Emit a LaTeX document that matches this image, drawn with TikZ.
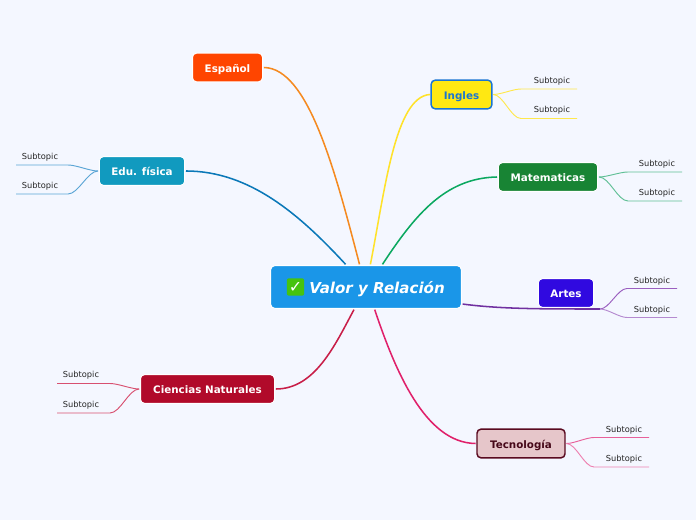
\documentclass[tikz,border=0pt]{standalone}
\usepackage{fontspec}
\setmainfont{DejaVu Sans}
\definecolor{bgpage}{HTML}{F4F7FF}
\tikzset{
  topic/.style={rounded corners=3pt, draw=white, line width=0.75pt, outer sep=1pt, inner sep=0pt,
    minimum height=21.5pt, text height=7.2pt, text depth=0pt, text=white, font=\fontsize{7.75}{10}\selectfont\bfseries},
  subtopic/.style={inner sep=0pt, text height=5.25pt, text depth=0pt, text=black!85, font=\fontsize{6.2}{8}\selectfont},
  branch/.style={line width=1.15pt},
  twig/.style={line width=0.7pt}
}
\begin{document}
\begin{tikzpicture}[x=0.75pt, y=-0.75pt]
  \fill[bgpage] (0,0) rectangle (696,520);
  \useasboundingbox (0,0) rectangle (696,520);
  % central topic
  \node[topic, fill={rgb,255:red,26;green,150;blue,232}, minimum width=143pt, minimum height=32pt, text height=9.4pt,
    font=\fontsize{11.3}{14}\selectfont\bfseries\itshape] (valor) at (366,287) {\hspace{16.5pt}Valor y Relación};
  \node[rounded corners=1.5pt, fill={rgb,255:red,70;green,195;blue,15}, minimum size=13pt, inner sep=0pt,
    text=white, font=\fontsize{12}{12}\selectfont\bfseries] (check) at (295.5,287) {✓};
  % main topics
  \node[topic, fill={rgb,255:red,255;green,69;blue,0}, minimum width=52.5pt] (espanol) at (227.5,67.5) {Español};
  \node[topic, fill={rgb,255:red,255;green,232;blue,18}, draw={rgb,255:red,26;green,117;blue,210}, line width=1.1pt,
    text={rgb,255:red,26;green,117;blue,210}, minimum width=45.5pt] (ingles) at (461.5,94.5) {Ingles};
  \node[topic, fill={rgb,255:red,24;green,132;blue,52}, minimum width=74.5pt] (mate) at (548,177) {Matematicas};
  \node[topic, fill={rgb,255:red,48;green,9;blue,224}, minimum width=41.5pt] (artes) at (566,293) {Artes};
  \node[topic, fill={rgb,255:red,230;green,198;blue,202}, draw={rgb,255:red,90;green,10;blue,32}, line width=1.1pt,
    text={rgb,255:red,70;green,8;blue,25}, minimum width=66pt] (tecno) at (521,443.5) {Tecnología};
  \node[topic, fill={rgb,255:red,177;green,10;blue,42}, minimum width=100.5pt] (ciencias) at (207.5,389) {Ciencias Naturales};
  \node[topic, fill={rgb,255:red,17;green,154;blue,191}, minimum width=64pt] (edu) at (142,171) {Edu. física};
  \coordinate (artesfin) at (600,309);
  % branches
  \draw[branch, color={rgb,255:red,245;green,138;blue,32}] (espanol.east) .. controls (308,68) and (335,170) .. (valor.106);
  \draw[branch, color={rgb,255:red,10;green,120;blue,184}] (edu.east) .. controls (250,171) and (300,215) .. (valor.132);
  \draw[branch, color={rgb,255:red,255;green,226;blue,42}] (ingles.west) .. controls (395,97) and (385,190) .. (valor.79);
  \draw[branch, color={rgb,255:red,11;green,168;blue,96}] (mate.west) .. controls (445,178) and (415,215) .. (valor.54);
  \draw[branch, color={rgb,255:red,112;green,48;blue,160}] (valor.-10) .. controls (500,309) and (540,309) .. (artesfin);
  \draw[branch, color={rgb,255:red,224;green,32;blue,106}] (tecno.west) .. controls (425,443) and (395,370) .. (valor.-69);
  \draw[branch, color={rgb,255:red,200;green,30;blue,72}] (ciencias.east) .. controls (315,389) and (335,345) .. (valor.-118);
  % subtopics
  \foreach \n/\p/\xa/\xb/\xt/\yt/\yl/\c/\ao/\ai in {
    ina/ingles.east/521/577/552/80/89/FFE84D/0/180, inb/ingles.east/521/577/552/109/118.5/FFE84D/0/180,
    maa/mate.east/628/682/657/163/172/5FBF95/0/180, mab/mate.east/628/682/657/192/201/5FBF95/0/180,
    ara/artesfin/627/677/652/280/288.5/9A5FC0/0/180, arb/artesfin/627/677/652/309/317.5/B58AD0/0/180,
    tea/tecno.east/594/649/624/429/437.5/E8609A/0/180, teb/tecno.east/594/649/624/458/467/EE80B0/0/180,
    eda/edu.west/68/16/40/156/165/5AA5D5/180/0, edb/edu.west/68/16/40/185/194/5AA5D5/180/0,
    cia/ciencias.west/110/57/81/374/383.5/D85070/180/0, cib/ciencias.west/110/57/81/404/413/D85070/180/0}
  {
    \definecolor{twigcol}{HTML}{\c}
    \node[subtopic] (\n) at (\xt,\yt) {Subtopic};
    \coordinate (\n-a) at (\xa,\yl);
    \coordinate (\n-b) at (\xb,\yl);
    \draw[twig, twigcol] (\p) to[out=\ao, in=\ai, looseness=0.7] (\n-a) -- (\n-b);
  }
\end{tikzpicture}
\end{document}
